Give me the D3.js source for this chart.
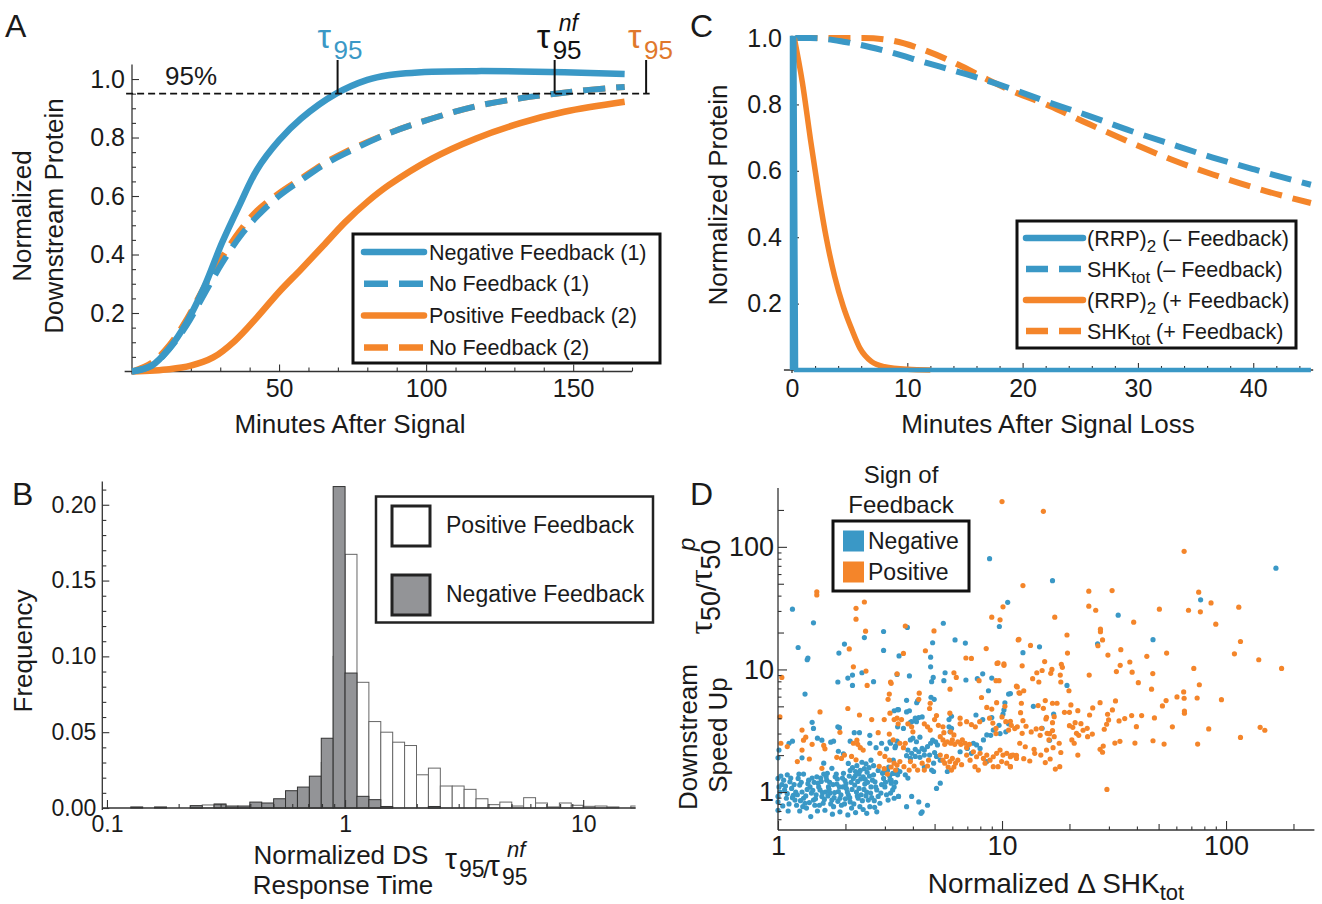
<!DOCTYPE html>
<html><head><meta charset="utf-8">
<script src="https://cdn.jsdelivr.net/npm/d3@7"></script>
<style>
body{margin:0;background:#fff;}
svg text{font-family:"Liberation Sans",Arial,sans-serif;fill:#1a1a1a;}
</style></head><body>
<svg id="fig" width="1322" height="904"></svg>
<script>
const BLUE="#3a98c6", ORANGE="#f4852a", GRAY="#939497", AX="#333";
const SERIF="Liberation Serif, DejaVu Serif, serif";

// ---------- Panel A data ----------
const negFb1=[[0,0],[6.7,0.02],[12.7,0.08],[18.7,0.17],[24.6,0.29],[30.6,0.44],[36.6,0.57],[42.5,0.69],[50,0.79],[57.5,0.865],[69.4,0.95],[80,0.997],[87,1.013],[102,1.025],[117,1.027],[132,1.026],[147,1.023],[167.5,1.017]];
const noFb1=[[0,0],[6.7,0.02],[12.7,0.077],[18.7,0.16],[24.6,0.265],[30.6,0.37],[36.6,0.46],[42.5,0.53],[50,0.60],[57.5,0.654],[65,0.705],[72.4,0.745],[87.3,0.814],[102,0.865],[117,0.907],[132,0.934],[144,0.95],[154.5,0.962],[167.5,0.973]];
const posFb2=[[0,0],[12.7,0.008],[20,0.02],[27.6,0.048],[35,0.105],[42.5,0.185],[50,0.272],[57.5,0.35],[65,0.43],[72.4,0.51],[80,0.58],[87.3,0.637],[102,0.728],[117,0.797],[132,0.849],[147,0.888],[167.5,0.922]];
const noFb2=[[0,0],[6.7,0.03],[12.7,0.09],[18.7,0.18],[24.6,0.29],[30.6,0.39],[36.6,0.48],[42.5,0.55],[50,0.61],[57.5,0.66],[65,0.71],[72.4,0.75],[87.3,0.815],[102,0.865],[117,0.907],[132,0.934],[144,0.95],[154.5,0.962],[167.5,0.973]];
const tauTimes=[69.9,143.7,174.8];
const thresh95=0.95;
const aLegend=["Negative Feedback (1)","No Feedback (1)","Positive Feedback (2)","No Feedback (2)"];
const aXTicks=[50,100,150], aYTicks=[0.2,0.4,0.6,0.8,1.0];

// ---------- Panel C data ----------
const rrpNeg=[[0,0],[0,1],[0.2,1],[0.35,0],[45,0]];
const shkNeg=[[0.3,1.0],[1.6,1.0],[4.45,0.989],[8,0.962],[11.6,0.926],[15.1,0.891],[18.7,0.851],[22.3,0.806],[25.8,0.765],[29.4,0.72],[32.9,0.68],[36.5,0.64],[40.1,0.604],[45,0.558]];
const rrpPos=[[0.2,1.0],[0.9,0.866],[1.6,0.695],[2.3,0.534],[3.0,0.393],[3.7,0.282],[4.45,0.191],[5.2,0.121],[5.9,0.065],[6.9,0.025],[8.0,0.01],[10,0.002],[12,0]];
const shkPos=[[0.3,1.0],[1.6,1.0],[6.2,1.0],[8.7,0.992],[11.6,0.962],[14.4,0.92],[16.9,0.876],[18.7,0.846],[22.3,0.796],[25.8,0.74],[29.4,0.685],[32.9,0.634],[36.5,0.589],[40.1,0.549],[45,0.503]];
const cXTicks=[0,10,20,30,40], cYTicks=[0.2,0.4,0.6,0.8,1.0];

// ---------- Panel B data (log-width bins, 20 per decade, index k) ----------
const binIndex=[-18,-16,-13,-12,-11,-10,-9,-8,-7,-6,-5,-4,-3,-2,-1,0,1,2,3,4,5,6,7,8,9,10,11,12,13,14,15,16,17,18,19,20,21,22,24];
const posFreq=[0,0,0.0015,0.002,0.0028,0.001,0.001,0.002,0.002,0.003,0.006,0.008,0.012,0.03,0.1,0.1673,0.0829,0.057,0.05,0.0434,0.0412,0.0219,0.0263,0.0145,0.0145,0.0123,0.0061,0.0022,0.0039,0.0013,0.0068,0.0033,0.0007,0.0033,0.0018,0.0011,0.0013,0.0007,0.0013];
const negFreq=[0.0007,0.0007,0.0015,0,0.0022,0.0013,0.0013,0.0039,0.0033,0.0061,0.0114,0.0138,0.021,0.046,0.212,0.089,0.0077,0.0055,0.001,0,0,0,0.001,0,0,0,0,0,0,0,0,0,0,0,0,0,0,0,0];
const bXMajor=[0.1,1,10], bXMinor=[0.2,0.3,0.4,0.5,0.6,0.7,0.8,0.9,2,3,4,5,6,7,8,9];
const bYMajor=[0,0.05,0.10,0.15,0.20];
const bLegend=["Positive Feedback","Negative Feedback"];

// ---------- Panel D data: [normalized ΔSHKtot, speed-up] ----------
const negPts=[[1.35,12],[2.37,9.4],[2.15,9.0],[2.05,8.5],[1.85,7.9],[2.15,7.4],[2.67,7.95],[3.4,9.1],[1.32,6.3],[3.42,4.7],[1.42,3.7],[1.44,3.3],[1.85,3.4],[1.88,3.35],[2.19,3.05],[2.31,3.05],[2.57,2.9],[3.42,3.4],
[1.12,2.5],[1.16,2.6],[1.01,2.2],[1.5,2.75],[1.57,2.65],[1.72,2.55],[1.77,2.6],[2.1,2.6],[2.57,2.5],[2.74,2.3],[2.9,2.5],[3.05,2.25],[3.18,2.5],[3.33,2.3],[3.4,2.6],
[1.0,1.9],[1.28,1.9],[1.86,2.15],[1.96,2.05],
[2.06,1.71],[2.15,1.58],[2.25,1.64],[2.37,1.75],[2.47,1.7],[2.6,1.82],[2.1,1.5],[2.22,1.47],[2.33,1.5],[2.43,1.55],[2.55,1.58],[2.67,1.64],
[1.6,1.72],[1.74,1.56],[1.66,1.42],[2.93,1.42],[3.12,1.6],[3.3,1.42],[3.4,1.5],
[1.0,1.29],[1.01,1.1],[1.0,0.92],[1.0,0.83],[1.0,0.71],[1.06,1.25],[1.07,1.04],[1.09,0.89],[1.12,0.8],
[1.13,1.21],[1.15,1.07],[1.17,0.94],[1.19,0.86],[1.21,0.78],[1.23,1.29],[1.25,1.14],[1.28,1.0],[1.3,0.89],[1.32,0.81],[1.34,0.74],
[1.37,1.25],[1.39,1.1],[1.41,0.98],[1.44,0.86],[1.46,0.78],[1.4,0.63],[1.49,1.33],[1.51,1.18],[1.54,1.04],[1.57,0.92],[1.59,0.81],[1.62,0.71],
[1.65,1.25],[1.68,1.1],[1.71,0.98],[1.74,0.86],[1.77,0.76],[1.8,1.33],[1.83,1.16],[1.86,1.01],[1.89,0.89],[1.92,0.78],[1.89,0.69],
[1.96,1.42],[1.99,1.24],[2.02,1.07],[2.06,0.95],[2.1,0.83],[2.13,0.74],[2.17,1.29],[2.2,1.14],[2.24,1.0],[2.28,0.89],[2.32,0.76],
[2.4,1.33],[2.44,1.16],[2.49,1.0],[2.53,0.86],[2.57,0.76],[2.49,0.67],[2.67,1.38],[2.71,1.21],[2.76,1.04],[2.8,0.92],[2.85,0.81],[2.76,0.69],
[2.96,1.29],[3.0,1.1],[3.05,0.95],[3.1,0.86],[3.2,1.25],[3.25,1.04],[3.3,0.89],[3.42,1.38],[3.45,0.92],
[1.04,1.15],[1.1,0.97],[1.14,1.3],[1.2,1.0],[1.26,0.85],[1.35,1.05],[1.45,1.2],[1.48,0.95],[1.55,1.3],[1.63,1.0],[1.7,1.2],[1.78,0.9],[1.84,1.28],[1.95,1.1],[2.0,0.88],[2.08,1.35],[2.12,1.2],[2.27,1.22],[2.35,0.95],[2.45,1.27],[2.6,1.1],[2.62,0.9],[2.9,1.15],[3.15,1.35],[1.1,1.38],[1.3,1.4],[1.6,1.4],[2.3,1.4],[2.5,1.45],[2.8,1.5],[1.05,0.77],[1.25,0.7],[1.5,0.7],[1.75,0.66],[2.05,0.65],[2.22,0.68],
[1.02,1.0],[1.03,1.35],[1.08,1.12],[1.11,0.7],[1.16,0.9],[1.18,1.15],[1.22,0.95],[1.24,1.4],[1.27,1.2],[1.29,0.76],[1.33,0.93],[1.36,1.17],[1.38,0.82],[1.42,1.3],[1.43,1.03],[1.47,0.88],[1.52,1.1],[1.53,0.78],[1.56,1.22],[1.58,0.99],[1.61,0.87],[1.64,1.33],[1.67,0.93],[1.69,1.05],[1.72,0.8],[1.76,1.15],[1.79,0.99],[1.82,1.4],[1.85,0.84],[1.88,1.1],[1.91,0.95],[1.94,1.3],[1.98,0.8],[2.01,1.17],[2.04,1.0],[2.09,0.9],[2.14,1.05],[2.18,0.8],[2.21,1.35],[2.26,0.93],[2.3,1.07],[2.34,1.28],[2.38,0.85],[2.42,1.05],[2.47,0.93],[2.51,1.2],[2.56,1.35],[2.59,0.98],[2.64,1.25],[2.69,0.85],[2.73,1.1],[2.88,0.98],[2.95,1.45],[3.02,1.2],[3.08,1.5],[3.18,0.98],[3.35,1.2],[2.7,0.75],[2.4,0.72],
[4.8,10.5],[3.86,8.85],[4.93,8.6],[4.85,7.95],[5.57,9.4],[5.5,8.1],[6.9,8.2],[7.76,8.4],[8.2,9.2],[9.0,8.5],[8.7,6.7],[10.7,6.3],[3.75,5.6],[4.16,5.35],[4.2,5.55],[4.82,5.93],[4.98,5.7],[10.3,5.35],[10.2,4.67],[10.1,4.33],[3.45,4.7],[3.3,4.6],[3.75,4.5],[3.86,4.6],[5.95,4.15],[5.8,3.9],[3.63,3.3],[4.1,4.0],[4.25,4.05],[4.4,4.1],[4.15,3.75],[3.95,3.75],[3.9,3.7],[5.8,3.4],[5.86,3.1],[5.95,3.3],[7.65,4.25],[8.2,3.9],[9.0,4.05],[9.7,3.5],[8.9,2.9],[10.7,3.6],[10.4,3.1],
[3.16,2.57],[3.35,2.38],[3.9,2.66],[4.0,2.75],[4.15,2.57],[4.3,2.8],[3.8,2.2],[3.95,2.07],[4.1,2.23],[4.25,2.13],[4.4,2.27],[4.5,2.2],[4.65,2.35],[4.8,2.5],[4.9,2.65],[5.05,2.57],[5.15,2.42],[4.5,2.0],[4.75,2.0],[5.0,2.1],[4.1,1.95],[4.3,1.92],[3.9,1.88],[3.75,1.98],
[5.1,1.95],[5.3,1.82],[4.95,1.72],[4.85,1.51],[4.5,1.6],[3.27,1.82],[3.5,1.47],[3.7,1.38],[3.8,1.3],[3.4,1.51],[3.25,1.42],[3.16,1.25],
[3.2,1.18],[3.3,1.1],[3.45,0.92],[3.75,0.76],[3.95,0.92],[4.25,0.83],[4.65,0.78],[4.4,0.69],[4.35,0.67],[5.1,1.07],[5.3,1.18],[4.95,1.47],
[6.5,2.13],[7.0,2.27],[7.45,2.5],[7.7,2.42],[7.98,2.27],[7.3,2.07],[8.26,2.66],[8.55,2.92],[9.14,3.2],[9.8,3.0],[8.55,1.77],[5.7,1.47],
[8.8,80],[1.16,31],[3.78,22],[1.44,24],[2.96,20.4],[2.43,18.2],[5.47,23.8],[4.9,16.5],[6.17,17.4],[6.86,16.4],[9.73,22.4],[10.6,35.3],[1.23,15.1],[1.98,16.1],[1.87,13.6],[1.36,12.4],[2.96,14.3],[3.47,12.9],[4.8,12.6],
[16.8,53],[33,27.7],[26.7,16.2],[47.2,17.5],[14.7,15.3],[12.4,13.7],[19.5,7.4],[10.9,6.35],[13.8,5.0],[17.0,4.33],[15.1,3.31],[16.3,2.64],[167,67],[77,37]];
const posPts=[[2.17,10.5],[2.47,9.7],[1.04,8.6],[3.18,7.9],[2.5,7.4],[3.14,6.3],[3.1,5.7],[1.54,4.5],[2.05,4.8],[1.02,4.1],[2.31,4.25],[2.62,3.9],[2.98,3.9],[3.4,4.0],[1.89,3.07],[1.28,3.2],[2.8,3.05],[3.14,2.97],
[1.03,2.5],[1.1,2.35],[1.33,2.8],[1.3,2.65],[1.42,2.45],[1.6,2.4],[1.62,2.25],[1.28,2.2],[2.17,2.5],[2.27,2.45],[2.33,2.3],[2.4,2.2],[2.25,2.65],
[2.85,2.07],[3.0,1.95],[3.14,1.82],[3.3,1.72],[1.22,1.77],[1.38,1.86],[1.83,1.92],[1.92,1.88],[1.98,2.0],[2.13,1.95],[2.23,1.83],[1.57,1.56],[2.83,1.62],[2.98,1.55],[3.08,1.4],
[9.5,11.2],[10.2,10.8],[3.4,9.2],[6.1,9.4],[6.25,8.6],[7.9,8.1],[9.4,8.1],[9.7,8.1],[11.6,7.3],[3.2,7.7],[5.86,6.9],[12,6.4],[4.27,6.4],[4.25,5.7],[4.78,5.3],[4.75,4.8],[8.1,5.9],[9.46,5.36],[10.3,5.0],[8.55,4.9],[9.0,4.75],[3.16,4.4],[3.3,3.9],[5.1,4.2],[5.0,3.9],[5.85,4.4],[6.5,4.0],[6.5,3.6],[3.44,3.6],[3.56,3.9],[3.8,3.6],[3.95,3.4],[4.0,3.1],[4.5,3.6],[4.65,3.4],[4.78,3.2],[5.45,3.4],[5.2,3.5],[6.95,3.75],[7.3,3.55],[7.6,3.4],[7.95,3.75],[8.8,4.0],[9.1,3.65],[10,4.1],[10.4,3.75],[10.7,3.2],[11,3.5],[11.7,3.4],[9.4,3.3],[9.4,3.0],
[3.27,2.66],[3.5,2.5],[3.63,2.3],[3.7,2.5],[5.3,2.83],[5.45,2.66],[5.55,2.45],[5.7,2.57],[5.9,2.5],[6.0,2.66],[6.15,2.45],[6.35,2.57],[6.55,2.45],[6.65,2.66],[6.85,2.5],[6.95,2.3],[7.15,2.45],
[4.4,1.72],[4.65,1.63],[4.5,1.51],[4.7,1.82],[5.3,2.0],[5.45,1.82],[5.65,1.95],[5.85,1.77],[6.0,1.88],[6.2,1.72],[6.35,1.82],[6.6,1.67],[5.75,1.6],[5.95,1.51],[6.1,1.6],[5.55,1.72],
[3.9,1.77],[4.05,1.63],[4.2,1.51],[3.85,1.51],[3.65,1.61],[3.5,1.77],[3.4,1.66],[3.35,1.51],[3.2,1.6],
[7.45,2.13],[7.7,1.94],[7.98,2.07],[8.26,1.88],[8.55,2.0],[8.84,1.82],[9.14,1.94],[9.46,2.07],[9.8,2.2],[10.1,2.0],[10.5,2.07],[10.9,1.94],[11.2,2.0],[11.6,1.88],[9.96,1.77],[10.5,1.72],[10.9,1.61],[9.6,1.61],[9.14,1.61],[8.4,1.72],[7.57,1.61],[7.84,1.51],[7.2,1.82],[6.95,2.0],
[5.9,3.1],[6.1,2.92],[5.5,3.05],
[10,234],[1.49,43],[1.49,40.5],[2.23,31.5],[2.43,35.5],[2.23,25.7],[2.46,20.5],[3.7,22.6],[4.97,20.6],[9.0,26.7],[9.8,25.4],[10.1,32.4],[11.8,17.4],[2.08,14.7],[3.63,13.5],[4.55,14.2],[6.9,12.4],[7.3,12.3],[8.5,14.8],[9.6,11.3],[10.2,11.1],
[15.3,195],[12.4,48.3],[24.4,43.5],[31,44],[24.4,32.8],[26.2,30.4],[50.4,31],[17.2,26.7],[38.7,24.3],[27.5,21.3],[27.5,20.3],[19.5,19.1],[28.1,17.4],[26.8,15.6],[11.9,17.6],[13.4,15.7],[19.6,13.6],[29.7,13.1],[33.9,14.5],[44.3,12.8],[12.3,10.7],[15.5,11.6],[18.4,11.0],[18.6,10.4],[33.7,10.8],[37.2,11.5],[14.3,9.4],[15.1,9.8],[16.7,10.0],[16.5,9.3],[18.2,9.0],[18.3,7.9],[13.7,8.4],[14.6,7.9],[24.5,9.0],[32.4,9.6],[38.1,9.5],[40.6,7.8],[47.1,9.25],[46.5,6.9],[11.7,7.2],[12.5,6.7],[11.9,6.45],[19.9,6.7],
[12.2,5.3],[15.6,5.57],[16.8,5.3],[17.6,5.3],[20.3,5.13],[27.4,5.36],[32.1,5.53],
[14.5,5.07],[15.3,4.82],[12.1,4.44],[15.8,4.07],[15.7,3.94],[16.8,3.68],[17.1,4.12],[19.0,4.47],[20.0,4.47],[21.8,4.61],[25.4,4.85],[24.6,4.25],[29.6,4.31],[31.1,4.67],[29.9,3.87],[33.3,3.8],[35.3,3.97],[37.9,4.2],[39.8,3.41],[42.0,4.2],[47.9,4.02],[47.2,2.62],[39.2,2.51],[33.6,2.59],[31.9,2.51],[28.6,3.25],[29.3,3.57],[10.9,3.78],[11.4,3.29],[12.3,3.01],[12.4,3.82],[12.8,3.44],[13.5,3.09],[14.2,3.27],[15.0,3.31],[14.8,2.9],[15.9,3.01],[16.3,2.99],[16.8,3.17],[17.1,2.83],[16.2,2.66],[18.0,2.5],[20.0,3.48],[20.7,3.37],[21.2,3.68],[22.5,3.61],[23.0,3.19],[24.0,3.31],[25.3,2.97],[24.1,2.83],[21.5,3.01],[22.0,2.9],[20.5,2.66],[21.0,2.5],[21.8,2.0],[18.3,2.1],[16.9,2.3],[15.8,2.2],[16.4,1.86],[15.6,1.74],[17.3,1.54],[18.1,1.61],[14.9,2.0],[13.9,2.23],[14.0,2.07],[13.3,1.79],[12.5,1.87],[11.6,1.99],[11.0,1.99],[10.9,1.61],[12.7,2.34],[12.0,2.5],[27.4,2.23],[28.1,2.11],[28.3,2.37],[29.4,1.05],
[65,92],[75.5,42.7],[85.7,34.9],[68,30.4],[76.8,29.5],[114,32.2],[90,23.4],[116,16.9],[54.3,13.6],[109,13.4],[140,12.0],[177,10.2],[71.8,10.2],[76,7.5],[64.7,6.55],[65,5.82],[60.4,5.97],[74.3,5.85],[95.4,5.67],[54,5.57],[52,5.04],[65.2,4.58],[65.2,4.39],[57.6,3.4],[83.7,3.27],[142,3.37],[149,3.19],[116,2.79],[52.9,2.46],[74.7,2.46]];
const dMajor=[1,10,100], dMid=[2,5,20,50,200], dMinorX=[3,4,6,7,8,9,30,40,60,70,80,90];
const dMinorY=[0.6,0.7,0.8,0.9,3,4,6,7,8,9,30,40,60,70,80,90];
const dLegend=["Negative","Positive"];

// ---------- helpers ----------
const svg=d3.select("#fig");
const FONT="Liberation Sans, Arial, sans-serif";
function ticks(g, gen, vals, size, fmt, pad, fs){
  const s=g.append("g").call(gen.tickValues(vals).tickSize(size).tickPadding(pad).tickFormat(fmt));
  s.select(".domain").remove();
  s.attr("font-family",FONT).attr("font-size",fs);
  s.selectAll(".tick line").attr("stroke",AX).attr("stroke-width",1.1);
  s.selectAll(".tick text").attr("fill","#1a1a1a");
  return s;
}
const none=()=>"";
function hline(x1,x2,y){svg.append("line").attr("x1",x1).attr("x2",x2).attr("y1",y).attr("y2",y).attr("stroke",AX).attr("stroke-width",1.3);}
function vline(x,y1,y2){svg.append("line").attr("x1",x).attr("x2",x).attr("y1",y1).attr("y2",y2).attr("stroke",AX).attr("stroke-width",1.3);}
function txt(x,y,s,fs,opt={}){
  const t=svg.append("text").attr("x",x).attr("y",y).attr("font-size",fs).text(s);
  if(opt.anchor) t.attr("text-anchor",opt.anchor);
  if(opt.fill) t.style("fill",opt.fill);
  if(opt.family) t.attr("font-family",opt.family);
  if(opt.italic) t.attr("font-style","italic");
  return t;
}
function label(x,y,s){txt(x,y,s,32);}
const SMOOTH=d3.curveCatmullRom.alpha(0.5);

// ================= Panel A =================
const xA=d3.scaleLinear().domain([0,170]).range([132,632]);
const yA=d3.scaleLinear().domain([0,1.05]).range([371.5,64.4]);
hline(xA(-2.5),xA(170),yA(0)); vline(xA(0),yA(0)+3,yA(1.05));
const gAx=svg.append("g").attr("transform",`translate(0,${yA(0)})`);
ticks(gAx,d3.axisBottom(xA),d3.range(10,171,10).filter(v=>v%50),-4,none,8,25);
ticks(gAx,d3.axisBottom(xA),aXTicks,-7,d=>d,8,25);
const gAy=svg.append("g").attr("transform",`translate(${xA(0)},0)`);
ticks(gAy,d3.axisLeft(yA),d3.range(1,21).map(i=>i*0.05).filter((v,i)=>(i+1)%4),-4,none,7,25);
ticks(gAy,d3.axisLeft(yA),aYTicks,-7,d3.format(".1f"),7,25);

const lineA=d3.line().x(d=>xA(d[0])).y(d=>yA(d[1])).curve(SMOOTH);
const DASH="22,11";
svg.append("path").attr("d",lineA(posFb2)).attr("fill","none").attr("stroke",ORANGE).attr("stroke-width",6.5);
svg.append("path").attr("d",lineA(noFb2)).attr("fill","none").attr("stroke",ORANGE).attr("stroke-width",6).attr("stroke-dasharray",DASH);
svg.append("path").attr("d",lineA(noFb1)).attr("fill","none").attr("stroke",BLUE).attr("stroke-width",6).attr("stroke-dasharray",DASH);
svg.append("path").attr("d",lineA(negFb1)).attr("fill","none").attr("stroke",BLUE).attr("stroke-width",6.5);
// 95% threshold
svg.append("line").attr("x1",xA(-2)).attr("x2",xA(176)).attr("y1",yA(thresh95)).attr("y2",yA(thresh95))
  .attr("stroke","#111").attr("stroke-width",1.6).attr("stroke-dasharray","7,4");
tauTimes.forEach(t=>svg.append("line").attr("x1",xA(t)).attr("x2",xA(t)).attr("y1",60).attr("y2",yA(thresh95)).attr("stroke","#111").attr("stroke-width",2));
txt(165,85,"95%",26);
function tau95(x,color,sup){
  txt(x,48,"τ",34,{family:SERIF,fill:color});
  txt(x+16,59,"95",26,{fill:color});
  if(sup) txt(x+22,31,sup,23,{italic:true,fill:color});
}
tau95(xA(tauTimes[0])-20,BLUE);
tau95(xA(tauTimes[1])-18,"#111","nf");
tau95(xA(tauTimes[2])-18,"#e0782c");
// legend A
svg.append("rect").attr("x",353).attr("y",234).attr("width",307).attr("height",129).attr("fill","#fff").attr("stroke","#111").attr("stroke-width",3);
const aCols=[BLUE,BLUE,ORANGE,ORANGE], aDash=[null,DASH,null,DASH];
aLegend.forEach((s,i)=>{
  const y=252+i*31.8;
  const l=svg.append("line").attr("x1",364).attr("x2",424).attr("y1",y).attr("y2",y).attr("stroke",aCols[i]).attr("stroke-width",6.5);
  if(aDash[i]) l.attr("stroke-dasharray","24,11");
  else l.attr("stroke-linecap","round");
  txt(429,y+7.5,s,21.5);
});
txt(350,433,"Minutes After Signal",26,{anchor:"middle"});
svg.append("text").attr("transform","translate(31,216) rotate(-90)").attr("text-anchor","middle").attr("font-size",26).text("Normalized");
svg.append("text").attr("transform","translate(63,216) rotate(-90)").attr("text-anchor","middle").attr("font-size",26).text("Downstream Protein");
label(5,37,"A");

// ================= Panel C =================
const xC=d3.scaleLinear().domain([0,45.2]).range([792,1313.2]);
const yC=d3.scaleLinear().domain([0,1.007]).range([370,35.7]);
hline(xC(-0.7),xC(45.2),yC(0)); vline(xC(0),yC(0)+3,yC(1.007));
const gCx=svg.append("g").attr("transform",`translate(0,${yC(0)})`);
ticks(gCx,d3.axisBottom(xC),d3.range(2,45,2).filter(v=>v%10),-4,none,9,25);
ticks(gCx,d3.axisBottom(xC),cXTicks,-7,d=>d,9,25);
const gCy=svg.append("g").attr("transform",`translate(${xC(0)},0)`);
ticks(gCy,d3.axisLeft(yC),d3.range(1,21).map(i=>i*0.05).filter((v,i)=>(i+1)%4),-4,none,10,25);
ticks(gCy,d3.axisLeft(yC),cYTicks,-7,d3.format(".1f"),10,25);
const lineC=d3.line().x(d=>xC(d[0])).y(d=>yC(d[1])).curve(d3.curveMonotoneX);
const lineCl=d3.line().x(d=>xC(d[0])).y(d=>yC(d[1]));
svg.append("path").attr("d",lineC(shkPos)).attr("fill","none").attr("stroke",ORANGE).attr("stroke-width",6).attr("stroke-dasharray",DASH);
svg.append("path").attr("d",lineC(shkNeg)).attr("fill","none").attr("stroke",BLUE).attr("stroke-width",6).attr("stroke-dasharray",DASH);
svg.append("path").attr("d",lineC(rrpPos)).attr("fill","none").attr("stroke",ORANGE).attr("stroke-width",5.5);
svg.append("path").attr("d",lineCl(rrpNeg)).attr("fill","none").attr("stroke",BLUE).attr("stroke-width",4.5);
// legend C
svg.append("rect").attr("x",1017).attr("y",221).attr("width",279).attr("height",127).attr("fill","#fff").attr("stroke","#111").attr("stroke-width",3);
const cCols=[BLUE,BLUE,ORANGE,ORANGE], cDash=[null,DASH,null,DASH];
const cMain=["(RRP)","SHK","(RRP)","SHK"], cSub=["2","tot","2","tot"], cTail=[" (– Feedback)"," (– Feedback)"," (+ Feedback)"," (+ Feedback)"];
cMain.forEach((s,i)=>{
  const y=238+i*31;
  const l=svg.append("line").attr("x1",1026).attr("x2",1083).attr("y1",y).attr("y2",y).attr("stroke",cCols[i]).attr("stroke-width",6.5);
  if(cDash[i]) l.attr("stroke-dasharray","22,11"); else l.attr("stroke-linecap","round");
  const t=svg.append("text").attr("x",1087).attr("y",y+7.5).attr("font-size",21.5);
  t.append("tspan").text(s);
  t.append("tspan").attr("dy",6).attr("font-size",17).text(cSub[i]);
  t.append("tspan").attr("dy",-6).text(cTail[i]);
});
txt(1048,433,"Minutes After Signal Loss",26,{anchor:"middle"});
svg.append("text").attr("transform","translate(727,195) rotate(-90)").attr("text-anchor","middle").attr("font-size",26).text("Normalized Protein");
label(690,37,"C");

// ================= Panel B =================
const xB=d3.scaleLog().domain([0.0956,16.6]).range([102.3,635.6]);
const yB=d3.scaleLinear().domain([0,0.2154]).range([808,481.4]);
svg.append("clipPath").attr("id","clipB").append("rect").attr("x",xB(0.0956)).attr("y",470).attr("width",xB(16.6)-xB(0.0956)).attr("height",340);
const edge=k=>Math.pow(10,k/20);
const gBars=svg.append("g").attr("clip-path","url(#clipB)");
gBars.selectAll("rect.pos").data(binIndex.map((k,i)=>({k,v:posFreq[i]})).filter(d=>d.v>0)).join("rect")
  .attr("x",d=>xB(edge(d.k))).attr("width",d=>xB(edge(d.k+1))-xB(edge(d.k)))
  .attr("y",d=>yB(d.v)).attr("height",d=>yB(0)-yB(d.v)).attr("fill","#fff").attr("stroke","#666").attr("stroke-width",1);
gBars.selectAll("rect.neg").data(binIndex.map((k,i)=>({k,v:negFreq[i]})).filter(d=>d.v>0)).join("rect")
  .attr("x",d=>xB(edge(d.k))).attr("width",d=>xB(edge(d.k+1))-xB(edge(d.k)))
  .attr("y",d=>yB(d.v)).attr("height",d=>yB(0)-yB(d.v)).attr("fill",GRAY).attr("stroke","#333").attr("stroke-width",1);
hline(xB(0.0956),xB(16.6),yB(0)); vline(xB(0.0956),yB(0)+2,yB(0.2154));
const gBx=svg.append("g").attr("transform",`translate(0,${yB(0)})`);
ticks(gBx,d3.axisBottom(xB),bXMinor,-4,none,8,23);
ticks(gBx,d3.axisBottom(xB),bXMajor,-8,d=>d,8,23);
const gBy=svg.append("g").attr("transform",`translate(${xB(0.0956)},0)`);
ticks(gBy,d3.axisLeft(yB),d3.range(1,22).map(i=>i*0.01).filter((v,i)=>(i+1)%5),-4,none,6,23);
ticks(gBy,d3.axisLeft(yB),bYMajor,-7,d3.format(".2f"),6,23);
// legend B
svg.append("rect").attr("x",376).attr("y",496.5).attr("width",277).attr("height",126).attr("fill","#fff").attr("stroke","#222").attr("stroke-width",2.5);
[["#fff",506],[GRAY,575]].forEach((c,i)=>{
  svg.append("rect").attr("x",392).attr("y",c[1]).attr("width",38).attr("height",40).attr("fill",c[0]).attr("stroke","#222").attr("stroke-width",3);
  txt(446,c[1]+27,bLegend[i],23);
});
txt(341,864,"Normalized DS",26,{anchor:"middle"});
txt(343,894,"Response Time",26,{anchor:"middle"});
txt(445,869,"τ",30,{family:SERIF});
txt(459,877,"95",23);
txt(483,878,"/",24);
txt(488,876,"τ",30,{family:SERIF});
txt(502,885,"95",23);
txt(507,857,"nf",22,{italic:true});
svg.append("text").attr("transform","translate(32,651) rotate(-90)").attr("text-anchor","middle").attr("font-size",26).text("Frequency");
label(12,505,"B");

// ================= Panel D =================
const xD=d3.scaleLog().domain([1,248]).range([778,1314.4]);
const yD=d3.scaleLog().domain([0.49,302]).range([830,488]);
svg.append("g").selectAll("circle.n").data(negPts).join("circle")
  .attr("cx",d=>xD(d[0])).attr("cy",d=>yD(d[1])).attr("r",2.6).attr("fill",BLUE);
svg.append("g").selectAll("circle.p").data(posPts).join("circle")
  .attr("cx",d=>xD(d[0])).attr("cy",d=>yD(d[1])).attr("r",2.6).attr("fill",ORANGE);
hline(xD(1),xD(248),yD(0.49)); vline(xD(1),yD(0.49),yD(302));
const gDx=svg.append("g").attr("transform",`translate(0,${yD(0.49)})`);
ticks(gDx,d3.axisBottom(xD),dMinorX,-3.5,none,6,27);
ticks(gDx,d3.axisBottom(xD),dMid,-6,none,6,27);
ticks(gDx,d3.axisBottom(xD),dMajor,-9,d=>d,6,27);
const gDy=svg.append("g").attr("transform",`translate(${xD(1)},0)`);
ticks(gDy,d3.axisLeft(yD),dMinorY,-3.5,none,4,27);
ticks(gDy,d3.axisLeft(yD),dMid,-6,none,4,27);
ticks(gDy,d3.axisLeft(yD),dMajor,-9,d=>d,4,27);
// legend D
txt(901,483,"Sign of",24,{anchor:"middle"});
txt(901,513,"Feedback",24,{anchor:"middle"});
svg.append("rect").attr("x",833).attr("y",521).attr("width",136).attr("height",70).attr("fill","#fff").attr("stroke","#111").attr("stroke-width",3);
[[BLUE,530.5],[ORANGE,561.5]].forEach((c,i)=>{
  svg.append("rect").attr("x",843).attr("y",c[1]).attr("width",21).attr("height",21).attr("fill",c[0]);
  txt(868,c[1]+18,dLegend[i],23);
});
const xt=svg.append("text").attr("x",1056).attr("y",893).attr("text-anchor","middle").attr("font-size",28);
xt.append("tspan").text("Normalized Δ SHK");
xt.append("tspan").attr("dy",7).attr("font-size",22).text("tot");
svg.append("text").attr("transform","translate(697,737) rotate(-90)").attr("text-anchor","middle").attr("font-size",26).text("Downstream");
svg.append("text").attr("transform","translate(727,735) rotate(-90)").attr("text-anchor","middle").attr("font-size",26).text("Speed Up");
const tg=svg.append("g").attr("transform","translate(712,587) rotate(-90)");
const tt=tg.append("text").attr("text-anchor","middle");
tt.append("tspan").attr("font-family",SERIF).attr("font-size",34).text("τ");
tt.append("tspan").attr("dy",8).attr("font-size",27).text("50");
tt.append("tspan").attr("dy",-4).attr("font-size",28).text("/");
tt.append("tspan").attr("dy",-4).attr("font-family",SERIF).attr("font-size",34).text("τ");
tt.append("tspan").attr("dy",8).attr("font-size",27).text("50");
tg.append("text").attr("x",36).attr("y",-17).attr("font-size",24).attr("font-style","italic").text("p");
label(690,505,"D");
</script>
</body></html>
